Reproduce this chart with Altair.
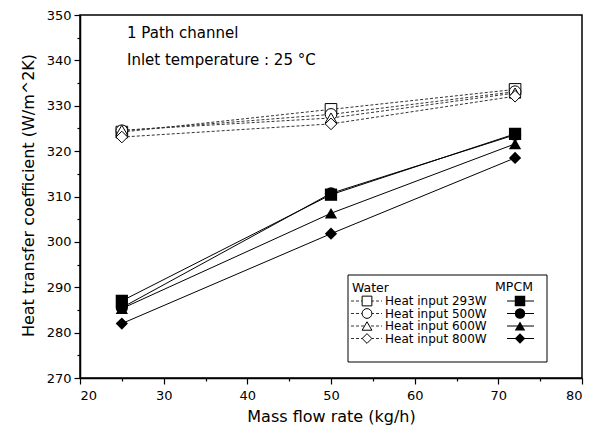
import altair as alt
import pandas as pd

# ---- data ----
flow = [25, 50, 72]
series = ["293W", "500W", "600W", "800W"]
water_293 = [324.2, 329.2, 333.6]
water_500 = [324.5, 328.1, 333.1]
water_600 = [324.6, 327.3, 332.8]
water_800 = [323.1, 326.0, 332.1]
mpcm_293 = [287.0, 310.4, 323.8]
mpcm_500 = [285.5, 310.7, 323.6]
mpcm_600 = [285.3, 306.3, 321.6]
mpcm_800 = [282.0, 301.8, 318.5]
shapes = ["square", "circle", "triangle-up", "diamond"]
legend_labels = ["Heat input 293W", "Heat input 500W", "Heat input 600W", "Heat input 800W"]
x_ticks = list(range(20, 81, 5))
y_ticks = list(range(270, 351, 5))

rows = []
for s, w, m in zip(series,
                   [water_293, water_500, water_600, water_800],
                   [mpcm_293, mpcm_500, mpcm_600, mpcm_800]):
    for f, v in zip(flow, w):
        rows.append({"flow": f, "h": v, "series": s, "fluid": "Water"})
    for f, v in zip(flow, m):
        rows.append({"flow": f, "h": v, "series": s, "fluid": "MPCM"})
df = pd.DataFrame(rows)
water = df[df.fluid == "Water"]
mpcm = df[df.fluid == "MPCM"]

FONT = "DejaVu Sans"

xenc = alt.X("flow:Q", title="Mass flow rate (kg/h)",
             scale=alt.Scale(domain=[20, 80], nice=False, zero=False),
             axis=alt.Axis(values=x_ticks, grid=False,
                           labelExpr="datum.value % 10 === 0 ? datum.label : ''",
                           tickSize={"condition": {"test": "datum.value % 10 === 0", "value": 6}, "value": 3},
                           labelPadding=5, titlePadding=6))
yenc = alt.Y("h:Q", title="Heat transfer coefficient (W/m^2K)",
             scale=alt.Scale(domain=[270, 350], nice=False, zero=False),
             axis=alt.Axis(values=y_ticks, grid=False,
                           labelExpr="datum.value % 10 === 0 ? datum.label : ''",
                           tickSize={"condition": {"test": "datum.value % 10 === 0", "value": 6}, "value": 3},
                           labelPadding=3, titleX=-44, titleY=180))
shape_scale = alt.Scale(domain=series, range=shapes)

w_lines = alt.Chart(water).mark_line(color="#333", strokeWidth=1, strokeDash=[3, 2]).encode(
    x=xenc, y=yenc, detail="series:N")
w_pts = alt.Chart(water).mark_point(filled=False, fill="white", stroke="black", strokeWidth=1,
                                    size=135, opacity=1).encode(
    x=xenc, y=yenc, shape=alt.Shape("series:N", scale=shape_scale, legend=None))
m_lines = alt.Chart(mpcm).mark_line(color="black", strokeWidth=1).encode(
    x=xenc, y=yenc, detail="series:N")
m_pts = alt.Chart(mpcm).mark_point(filled=True, color="black", size=150, opacity=1).encode(
    x=xenc, y=yenc, shape=alt.Shape("series:N", scale=shape_scale, legend=None))

one = pd.DataFrame({"a": [0]})
ann1 = alt.Chart(one).mark_text(align="left", baseline="middle", font=FONT, fontSize=15,
                                color="black", text="1 Path channel").encode(
    x=alt.value(47), y=alt.value(18))
ann2 = alt.Chart(one).mark_text(align="left", baseline="middle", font=FONT, fontSize=15,
                                color="black", text="Inlet temperature : 25 \u00b0C").encode(
    x=alt.value(47), y=alt.value(45))

# ---- hand-built legend (plot-area pixel coordinates) ----
leg = [alt.Chart(one).mark_rect(fill="white", stroke="black", strokeWidth=1).encode(
    x=alt.value(268), x2=alt.value(467), y=alt.value(260), y2=alt.value(347))]
leg.append(alt.Chart(one).mark_text(align="left", baseline="middle", font=FONT, fontSize=12.5,
                                    text="Water").encode(x=alt.value(272), y=alt.value(273)))
leg.append(alt.Chart(one).mark_text(align="center", baseline="middle", font=FONT, fontSize=12.5,
                                    text="MPCM").encode(x=alt.value(434), y=alt.value(272)))
row_y = [286, 298.5, 311, 323.5]
for lab, shp, yy in zip(legend_labels, shapes, row_y):
    leg.append(alt.Chart(one).mark_rule(color="#333", strokeWidth=1, strokeDash=[3, 2]).encode(
        x=alt.value(271), x2=alt.value(302), y=alt.value(yy)))
    leg.append(alt.Chart(one).mark_point(filled=False, fill="white", stroke="black", strokeWidth=1,
                                         size=95, opacity=1).encode(
        x=alt.value(287), y=alt.value(yy), shape=alt.value(shp)))
    leg.append(alt.Chart(one).mark_text(align="left", baseline="middle", font=FONT, fontSize=12,
                                        text=lab).encode(x=alt.value(305), y=alt.value(yy)))
    leg.append(alt.Chart(one).mark_rule(color="black", strokeWidth=1).encode(
        x=alt.value(427), x2=alt.value(454), y=alt.value(yy)))
    leg.append(alt.Chart(one).mark_point(filled=True, color="black", size=110, opacity=1).encode(
        x=alt.value(440), y=alt.value(yy), shape=alt.value(shp)))

chart = alt.layer(w_lines, m_lines, w_pts, m_pts, ann1, ann2, *leg).properties(
    width=502, height=363,
    autosize=alt.AutoSizeParams(type="none"),
    padding={"left": 72, "top": 7, "right": 14, "bottom": 48},
    background="white",
).configure_view(stroke="black", strokeWidth=1.5).configure_axis(
    domainColor="black", domainWidth=1.5, tickColor="black", tickWidth=1.2,
    labelFont=FONT, labelFontSize=13, labelColor="black",
    titleFont=FONT, titleFontSize=16, titleFontWeight="normal", titleColor="black",
)

chart.save("out.html", embed_options={"renderer": "svg", "actions": False})
